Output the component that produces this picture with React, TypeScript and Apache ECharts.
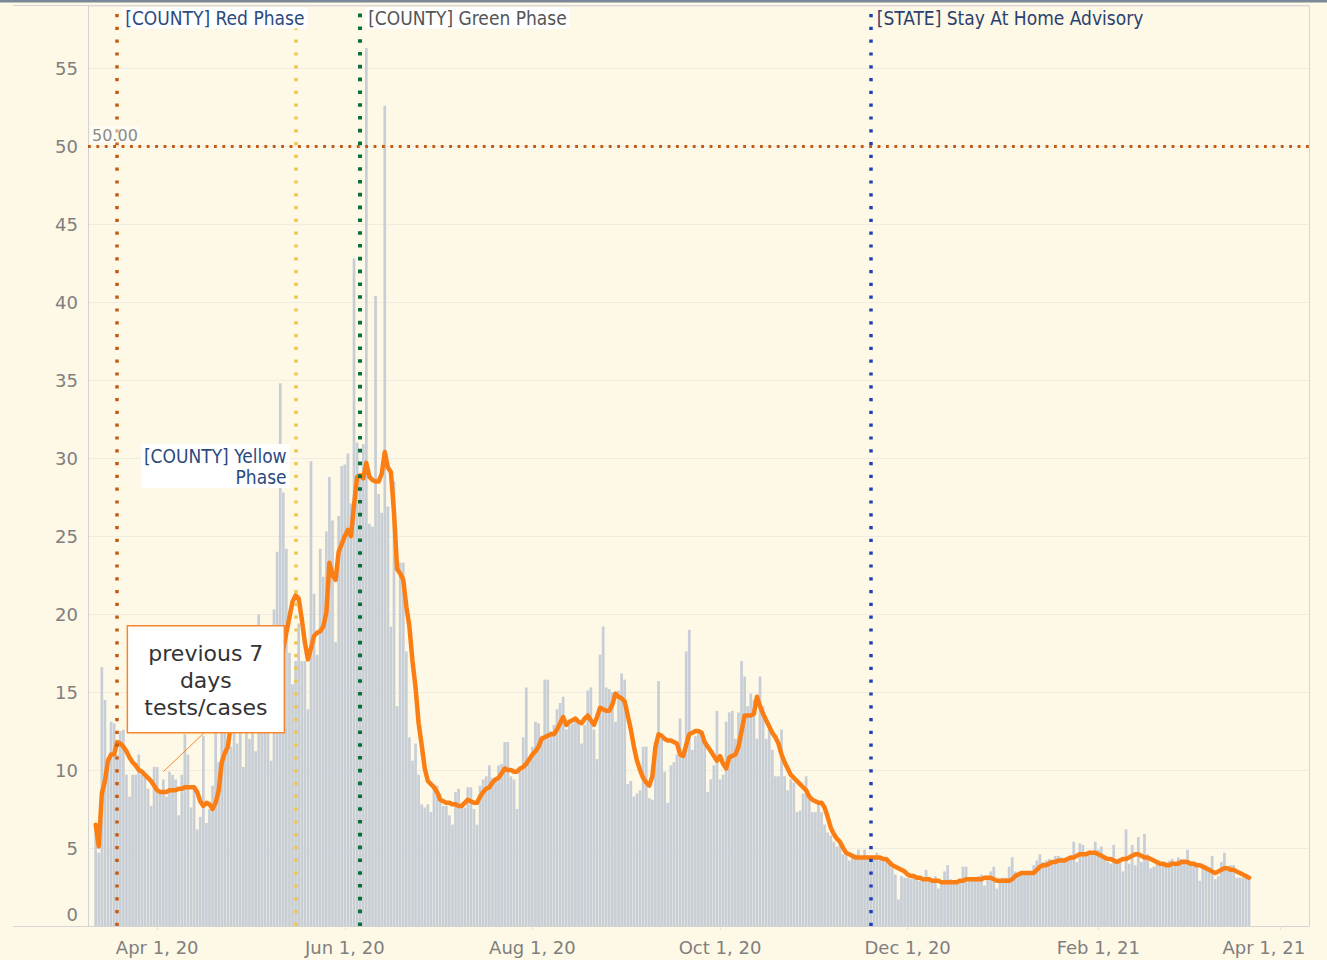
import React, { useEffect, useRef } from 'react';
import * as echarts from 'echarts';

// ---------- axis / categories ----------
const AXIS_START = '2020-03-10';
const AXIS_DAYS = 397; // through 2021-04-10
const DATA_START = '2020-03-12';

const TICK_DATES = ['2020-04-01', '2020-06-01', '2020-08-01', '2020-10-01', '2020-12-01', '2021-02-01', '2021-04-01'];
const TICK_LABELS = ['Apr 1, 20', 'Jun 1, 20', 'Aug 1, 20', 'Oct 1, 20', 'Dec 1, 20', 'Feb 1, 21', 'Apr 1, 21'];

// ---------- daily tests/cases ratio (bars), from 2020-03-12 ----------
const DAILY_RATIO = [
  6.3, 4.7, 16.6, 14.5, 10.2, 13.1, 13.0, 11.0,
  12.5, 12.6, 9.7, 8.3, 9.7, 9.7, 11.0, 9.7, 9.8, 8.8,
  7.7, 10.2, 10.2, 8.6, 9.4, 8.3, 9.9, 9.7, 9.4, 7.1,
  9.7, 12.3, 11.0, 7.6, 8.8, 6.2, 7.0, 12.2, 6.6, 7.5,
  9.0, 13.9, 10.5, 14.5, 15.2, 12.0, 11.5, 17.5, 11.7, 14.8,
  10.2, 15.5, 12.0, 18.5, 11.2, 20.0, 13.2, 17.0, 12.5, 10.6,
  20.3, 24.0, 34.8, 27.8, 24.2, 17.5, 15.5, 17.0, 19.4, 17.0,
  17.0, 13.9, 29.8, 21.3, 17.4, 24.2, 22.4, 25.3, 28.8, 26.0,
  18.2, 26.3, 29.5, 29.6, 30.3, 27.1, 42.8, 31.0, 29.0, 30.9,
  56.3, 25.8, 25.6, 40.4, 27.7, 26.5, 52.6, 26.9, 19.2, 28.5,
  14.1, 23.3, 23.3, 17.6, 12.1, 10.6, 11.7, 9.7, 7.8, 7.6,
  7.8, 7.3, 9.1, 9.0, 8.5, 7.7, 7.7, 7.1, 6.5, 8.6,
  8.8, 7.7, 7.6, 8.9, 8.9, 7.5, 6.5, 9.0, 9.4, 9.6,
  10.3, 9.5, 9.4, 10.3, 10.4, 11.8, 11.8, 9.6, 9.4, 7.5,
  10.2, 12.1, 15.3, 10.6, 11.5, 13.1, 13.0, 12.2, 15.8, 15.8,
  12.5, 12.9, 13.9, 14.3, 14.7, 12.6, 12.9, 13.0, 13.3, 13.1,
  11.7, 12.9, 15.1, 15.3, 12.6, 10.7, 17.4, 19.2, 15.3, 15.2,
  15.0, 13.1, 15.1, 16.2, 15.8, 9.1, 9.3, 8.3, 8.5, 8.7,
  11.5, 11.5, 8.2, 8.1, 11.8, 15.7, 12.0, 9.9, 7.9, 10.3,
  10.5, 11.0, 13.3, 10.9, 17.6, 19.0, 11.3, 12.2, 12.5, 12.4,
  12.0, 8.6, 9.4, 10.3, 13.8, 9.4, 9.7, 13.1, 13.7, 13.8,
  12.0, 13.7, 17.0, 16.0, 14.1, 14.9, 14.5, 12.0, 16.0, 14.1,
  12.0, 12.6, 11.3, 9.6, 9.6, 12.6, 9.6, 8.7, 9.4, 9.2,
  7.3, 7.4, 8.5, 9.6, 8.5, 7.3, 7.3, 7.9, 7.3, 6.5,
  6.0, 5.8, 5.4, 5.1, 5.4, 4.6, 4.6, 4.2, 4.5, 4.6,
  4.9, 4.3, 4.9, 4.4, 4.3, 4.4, 4.7, 4.5, 4.4, 4.3,
  4.1, 3.7, 3.3, 1.7, 3.2, 3.1, 3.1, 3.0, 3.1, 3.0,
  2.9, 2.9, 3.6, 3.0, 2.8, 3.2, 2.4, 2.9, 3.5, 3.9,
  3.0, 2.9, 2.8, 2.9, 3.8, 3.8, 2.9, 3.0, 3.1, 3.2,
  3.3, 2.6, 3.1, 3.5, 3.8, 2.4, 3.0, 3.1, 3.1, 3.8,
  4.4, 3.5, 3.3, 3.4, 3.4, 3.4, 3.5, 3.9, 4.2, 4.6,
  4.1, 4.2, 4.3, 4.2, 4.5, 4.5, 4.4, 4.3, 4.4, 4.4,
  5.4, 4.1, 5.3, 5.2, 4.6, 4.7, 4.6, 5.4, 4.9, 5.1,
  4.5, 4.1, 4.0, 5.2, 4.1, 4.3, 3.5, 6.2, 4.0, 5.2,
  3.9, 5.7, 4.1, 5.9, 4.6, 3.7, 3.8, 4.0, 3.9, 4.0,
  4.1, 4.2, 4.3, 4.0, 4.4, 4.3, 4.3, 4.9, 4.1, 3.9,
  3.9, 2.9, 4.0, 3.9, 3.8, 4.5, 3.0, 3.2, 4.1, 4.7,
  3.7, 3.9, 3.9, 3.1, 3.1, 3.1, 3.2, 3.1,
];

// ---------- previous 7 days tests/cases (line), from 2020-03-12 ----------
const ROLLING_RATIO = [
  6.5, 5.1, 8.5, 9.3, 10.6, 11.0, 11.0, 11.8,
  11.7, 11.5, 11.2, 10.8, 10.5, 10.3, 10.0, 9.9, 9.7, 9.5,
  9.3, 9.0, 8.7, 8.6, 8.6, 8.6, 8.7, 8.7, 8.7, 8.8,
  8.8, 8.9, 8.9, 8.9, 8.9, 8.6, 8.0, 7.7, 7.9, 7.8,
  7.5, 7.9, 8.7, 10.5, 11.1, 11.5, 13.0, 14.8, 15.0, 15.0,
  15.0, 15.0, 14.8, 14.7, 14.6, 14.4, 14.4, 14.3, 14.1, 14.0,
  13.5, 15.0, 16.5, 17.8, 18.8, 19.8, 20.8, 21.2, 21.0, 19.7,
  18.2, 17.1, 17.8, 18.6, 18.8, 18.9, 19.2, 20.1, 23.3, 22.5,
  22.2, 24.0, 24.5, 25.0, 25.4, 25.0, 27.0, 28.8, 28.9, 28.7,
  29.7, 28.8, 28.6, 28.5, 28.5, 29.0, 30.4, 29.4, 29.1, 26.5,
  22.9, 22.6, 22.2, 20.5, 19.2, 17.0, 15.3, 13.0, 11.6, 10.1,
  9.3, 9.1, 8.9, 8.6, 8.1, 8.0, 7.9, 7.9, 7.8, 7.8,
  7.7, 7.7, 7.9, 8.1, 8.0, 7.9, 7.9, 8.3, 8.6, 8.8,
  8.9, 9.2, 9.4, 9.5, 9.8, 10.1, 10.0, 10.0, 9.9, 9.9,
  10.1, 10.2, 10.4, 10.7, 11.0, 11.2, 11.5, 12.0, 12.1, 12.2,
  12.3, 12.3, 12.6, 13.0, 13.4, 12.9, 13.1, 13.2, 13.3, 13.1,
  13.0, 13.3, 13.5, 13.2, 12.9, 13.4, 14.0, 13.9, 13.8, 13.8,
  14.2, 14.9, 14.7, 14.6, 14.4, 13.5, 12.6, 11.5, 10.6, 10.0,
  9.5, 9.2, 9.0, 9.6, 11.5, 12.3, 12.2, 12.0, 11.9, 11.9,
  11.8, 11.7, 11.0, 10.9, 11.6, 12.3, 12.4, 12.5, 12.5, 12.4,
  11.8, 11.5, 11.2, 10.9, 10.6, 10.9, 10.4, 10.1, 10.8, 10.9,
  11.0, 11.5, 12.5, 13.5, 13.5, 13.5, 13.6, 14.7, 14.1, 13.6,
  13.2, 12.8, 12.4, 12.1, 11.7, 11.0, 10.5, 10.1, 9.7, 9.5,
  9.3, 9.1, 8.9, 8.7, 8.3, 8.1, 8.0, 7.9, 7.9, 7.6,
  7.0, 6.3, 5.9, 5.6, 5.4, 5.0, 4.7, 4.6, 4.5, 4.4,
  4.4, 4.4, 4.4, 4.4, 4.4, 4.4, 4.4, 4.4, 4.3, 4.3,
  4.1, 3.9, 3.8, 3.7, 3.6, 3.5, 3.3, 3.2, 3.2, 3.1,
  3.1, 3.0, 3.0, 3.0, 2.9, 2.9, 2.9, 2.8, 2.8, 2.8,
  2.8, 2.8, 2.8, 2.9, 2.9, 3.0, 3.0, 3.0, 3.0, 3.0,
  3.0, 3.1, 3.1, 3.1, 3.0, 2.9, 2.9, 2.9, 2.9, 2.9,
  3.0, 3.2, 3.3, 3.4, 3.4, 3.4, 3.4, 3.4, 3.6, 3.8,
  3.9, 3.9, 4.0, 4.1, 4.1, 4.2, 4.2, 4.2, 4.3, 4.4,
  4.4, 4.5, 4.6, 4.6, 4.6, 4.7, 4.7, 4.7, 4.6, 4.5,
  4.4, 4.3, 4.3, 4.2, 4.1, 4.2, 4.3, 4.3, 4.4, 4.5,
  4.6, 4.6, 4.5, 4.4, 4.4, 4.3, 4.2, 4.1, 4.0, 4.0,
  3.9, 3.9, 4.0, 4.0, 4.0, 4.1, 4.1, 4.1, 4.0, 4.0,
  3.9, 3.9, 3.8, 3.7, 3.6, 3.5, 3.4, 3.5, 3.6, 3.7,
  3.7, 3.6, 3.6, 3.5, 3.4, 3.3, 3.2, 3.1,
];

// ---------- reference lines ----------
const EVENT_DATES = ['2020-03-19', '2020-05-16', '2020-06-06', '2020-11-19'];
const EVENT_LABELS = ['[COUNTY] Red Phase', '[COUNTY] Yellow\nPhase', '[COUNTY] Green Phase', '[STATE] Stay At Home Advisory'];
const EVENT_COLORS = ['#c55a11', '#f1c44c', '#0b6e3b', '#1f3fb4'];
const THRESHOLD = 50;
const THRESHOLD_LABEL = '50.00';
const Y_MAX = 59;
const YELLOW_LABEL_VALUE = 29.5;

const CALLOUT_TEXT = 'previous 7\ndays\ntests/cases';
const CALLOUT_ANCHOR_DATE = '2020-04-03';
const CALLOUT_ANCHOR_VALUE = 9.9;

const BG = '#fef8e7';
const LABEL_FONT = "'DejaVu Sans Condensed', 'Open Sans', sans-serif";
const AXIS_FONT = "'DejaVu Sans', Verdana, sans-serif";

function isoDay(start: string, offset: number): string {
  const [y, m, d] = start.split('-').map(Number);
  return new Date(Date.UTC(y, m - 1, d + offset)).toISOString().slice(0, 10);
}

const CATEGORIES = Array.from({ length: AXIS_DAYS }, (_, i) => isoDay(AXIS_START, i));

function pad(values: number[]): (number | string)[] {
  const off = CATEGORIES.indexOf(DATA_START);
  return CATEGORIES.map((_, i) => {
    const k = i - off;
    return k >= 0 && k < values.length ? values[k] : '-';
  });
}

export default function App() {
  const ref = useRef<HTMLDivElement>(null);

  useEffect(() => {
    document.body.style.margin = '0';
    const chart = echarts.init(ref.current!, null, { renderer: 'svg' });

    const tickSet = new Set(TICK_DATES);
    const lastTick = TICK_DATES[TICK_DATES.length - 1];
    const lineStyles = [
      { color: EVENT_COLORS[0], width: 3.5, type: [3.2, 9.6] },
      { color: EVENT_COLORS[1], width: 3.5, type: [3.2, 9.6] },
      { color: EVENT_COLORS[2], width: 4, type: [3.6, 9.2] },
      { color: EVENT_COLORS[3], width: 3.5, type: [3.2, 9.6] },
    ];

    const labelStyle = (text: string, fill: string, bg?: string) => ({
      text,
      fill,
      font: `19px ${LABEL_FONT}`,
      verticalAlign: 'middle',
      backgroundColor: bg,
      padding: bg ? [1, 3, 1, 3] : 0,
    });

    const renderAnnotations = (params: any, api: any) => {
      if (params.dataIndex !== 0) return null;
      const c = (date: string, v: number) => api.coord([CATEGORIES.indexOf(date), v]) as number[];
      const topY = c(EVENT_DATES[0], Y_MAX)[1] + 12;
      const red = c(EVENT_DATES[0], 0)[0];
      const yellow = c(EVENT_DATES[1], YELLOW_LABEL_VALUE);
      const green = c(EVENT_DATES[2], 0)[0];
      const stay = c(EVENT_DATES[3], 0)[0];
      const anchor = c(CALLOUT_ANCHOR_DATE, CALLOUT_ANCHOR_VALUE);
      const boxX = anchor[0] - 36;
      const boxY = anchor[1] - 146;
      const boxW = 157;
      const boxH = 107;
      return {
        type: 'group',
        children: [
          { type: 'text', x: red + 5, y: topY, style: { ...labelStyle(EVENT_LABELS[0], '#2b4b7e', '#ffffff'), align: 'left' } },
          { type: 'text', x: green + 5, y: topY, style: { ...labelStyle(EVENT_LABELS[2], '#555555', '#ffffff'), align: 'left' } },
          { type: 'text', x: stay + 6, y: topY, style: { ...labelStyle(EVENT_LABELS[3], '#2b4270'), align: 'left' } },
          {
            type: 'text',
            x: yellow[0] - 6,
            y: yellow[1],
            style: { ...labelStyle(EVENT_LABELS[1], '#2b4b7e', '#ffffff'), align: 'right', lineHeight: 21, padding: [1, 3, 1, 3] },
          },
          {
            type: 'line',
            shape: { x1: anchor[0], y1: anchor[1], x2: boxX + 77, y2: boxY + boxH },
            style: { stroke: '#f7862c', lineWidth: 1, fill: null },
          },
          {
            type: 'rect',
            shape: { x: boxX, y: boxY, width: boxW, height: boxH },
            style: { fill: '#ffffff', opacity: 1, stroke: '#f7862c', lineWidth: 1.5 },
          },
          {
            type: 'text',
            x: boxX + boxW / 2,
            y: boxY + boxH / 2 + 1,
            style: {
              text: CALLOUT_TEXT,
              fill: '#333333',
              font: `22px ${AXIS_FONT}`,
              align: 'center',
              verticalAlign: 'middle',
              lineHeight: 27,
            },
          },
        ],
      };
    };

    chart.setOption({
      animation: false,
      backgroundColor: BG,
      grid: { left: 88, right: 18, top: 6, bottom: 34, containLabel: false },
      xAxis: {
        type: 'category',
        data: CATEGORIES,
        boundaryGap: true,
        axisLine: { show: true, lineStyle: { color: '#d3d3d3', width: 1 } },
        axisTick: {
          show: true,
          alignWithLabel: true,
          interval: (_i: number, v: string) => tickSet.has(v),
          length: 4,
          lineStyle: { color: '#e3e0d6' },
        },
        axisLabel: {
          interval: (_i: number, v: string) => tickSet.has(v),
          formatter: (v: string) => {
            const t = TICK_LABELS[TICK_DATES.indexOf(v)] ?? '';
            return v === lastTick ? `{last|${t}}` : t;
          },
          color: '#7f7f7f',
          fontSize: 18,
          fontFamily: AXIS_FONT,
          margin: 12,
          rich: {
            last: { padding: [0, 32, 0, 0], fontSize: 18, fontFamily: AXIS_FONT, color: '#7f7f7f' },
          },
        },
        splitLine: { show: false },
      },
      yAxis: {
        type: 'value',
        min: 0,
        max: Y_MAX,
        interval: 5,
        axisLine: { show: true, lineStyle: { color: '#d3d3d3', width: 1 } },
        axisTick: { show: false },
        axisLabel: {
          showMaxLabel: false,
          color: '#7f7f7f',
          fontSize: 18,
          fontFamily: AXIS_FONT,
          margin: 10,
          formatter: (v: number) => (v === 0 ? '{z|0}' : String(v)),
          rich: { z: { padding: [0, 0, 24, 0], fontSize: 18, fontFamily: AXIS_FONT, color: '#7f7f7f' } },
        },
        splitLine: { show: true, lineStyle: { color: '#f0ece2', width: 1 } },
      },
      graphic: {
        elements: [
          { type: 'rect', shape: { x: 0, y: 0, width: 1327, height: 2.5 }, style: { fill: '#7b8898' }, silent: true, z: 100 },
          { type: 'line', shape: { x1: 13, y1: 5.5, x2: 1309.5, y2: 5.5 }, style: { stroke: '#d6d6d6', lineWidth: 1 }, silent: true, z: 100 },
          { type: 'line', shape: { x1: 13, y1: 926.5, x2: 88, y2: 926.5 }, style: { stroke: '#d6d6d6', lineWidth: 1 }, silent: true, z: 100 },
          { type: 'line', shape: { x1: 1309.5, y1: 5.5, x2: 1309.5, y2: 926.5 }, style: { stroke: '#d6d6d6', lineWidth: 1 }, silent: true, z: 100 },
        ],
      },
      series: [
        {
          type: 'bar',
          data: pad(DAILY_RATIO),
          barWidth: '88%',
          itemStyle: { color: '#c8ced6' },
          silent: true,
          z: 2,
          markLine: {
            silent: true,
            symbol: ['none', 'none'],
            z: 6,
            label: { show: false },
            emphasis: { disabled: true },
            data: [
              ...EVENT_DATES.map((d, i) => ({ xAxis: d, lineStyle: { ...lineStyles[i], cap: 'butt' } })),
              {
                yAxis: THRESHOLD,
                lineStyle: { color: EVENT_COLORS[0], width: 3, type: [2.8, 5.6], cap: 'butt' },
                label: {
                  show: true,
                  position: 'insideStartTop',
                  formatter: THRESHOLD_LABEL,
                  color: '#8a8a8a',
                  fontSize: 16,
                  fontFamily: AXIS_FONT,
                  backgroundColor: 'rgba(255,255,255,0.5)',
                  padding: [1, 2, 0, 2],
                  distance: [2, 3],
                },
              },
            ],
          },
        },
        {
          type: 'line',
          data: pad(ROLLING_RATIO),
          showSymbol: false,
          symbol: 'none',
          silent: true,
          z: 3,
          lineStyle: { color: '#fb7e14', width: 4.5, join: 'round', cap: 'round' },
        },
        {
          type: 'custom',
          silent: true,
          z: 20,
          clip: false,
          data: [[0, 0]],
          renderItem: renderAnnotations,
        },
      ],
    });

    return () => chart.dispose();
  }, []);

  return (
    <div
      ref={ref}
      style={{ position: 'absolute', left: 0, top: 0, width: 1327, height: 960, background: BG }}
    />
  );
}
